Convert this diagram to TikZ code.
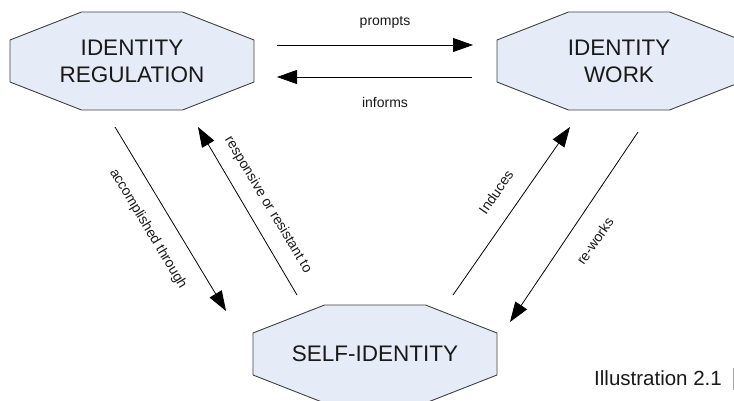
\documentclass[tikz,border=0pt]{standalone}
\usepackage{fontspec}
\setmainfont{Liberation Sans}
\usetikzlibrary{arrows.meta}
\definecolor{octfill}{HTML}{E6ECF7}
\definecolor{octline}{HTML}{404040}
\tikzset{
  octa/.style={draw=octline, fill=octfill, line width=0.9pt, line join=miter},
  bigtext/.style={align=center, font=\fontsize{22.5}{27}\selectfont, text=black!90},
  lbl/.style={font=\fontsize{14}{16}\selectfont, text=black!90, inner sep=0pt},
  conn/.style={draw=black, line width=0.8pt, -{Triangle[length=20pt,width=14pt]}},
}
\newcommand{\octagonat}[1]{%
  \draw[octa, shift={(#1)}] (-122,-21) -- (-50.5,-49) -- (50.5,-49) -- (122,-21)
     -- (122,21) -- (50.5,49) -- (-50.5,49) -- (-122,21) -- cycle;}
\begin{document}
\begin{tikzpicture}[x=1pt,y=-1pt]
\useasboundingbox (0,0) rectangle (734,400);
\clip (0,0) rectangle (734,400);
% octagons
\octagonat{132,61}
\octagonat{619,61}
\octagonat{375,354}
\node[bigtext] (reg) at (132,61) {IDENTITY\\REGULATION};
\node[bigtext] (work) at (619,61) {IDENTITY\\WORK};
\node[bigtext] (self) at (375,354) {SELF-IDENTITY};
% connector end points
\coordinate (p1) at (277,45);  \coordinate (p2) at (473,45);
\coordinate (i1) at (472,77);  \coordinate (i2) at (277,77);
\coordinate (a1) at (115,127); \coordinate (a2) at (226,311);
\coordinate (r1) at (297,295); \coordinate (r2) at (198,127);
\coordinate (n1) at (453,295); \coordinate (n2) at (570,127);
\coordinate (w1) at (638,132); \coordinate (w2) at (510,322);
\draw[conn] (p1) -- (p2);
\draw[conn] (i1) -- (i2);
\draw[conn] (a1) -- (a2);
\draw[conn] (r1) -- (r2);
\draw[conn] (n1) -- (n2);
\draw[conn] (w1) -- (w2);
% labels
\node[lbl, anchor=base] (lp) at (385,25) {prompts};
\node[lbl, anchor=base] (li) at (385,107) {informs};
\node[lbl, rotate=-59] (la) at (148,229) {accomplished through};
\node[lbl, rotate=-59] (lr) at (268,205) {responsive or resistant to};
\node[lbl, rotate=55.5] (ln) at (496,192) {Induces};
\node[lbl, rotate=55.5] (lw) at (595,241) {re-works};
\node[anchor=base west, inner sep=0pt, font=\fontsize{20.5}{24}\selectfont, text=black!90] (ill) at (594,385) {Illustration 2.1};
\draw[black!35, line width=0.8pt] (733,368) -- (733,390);
\end{tikzpicture}
\end{document}
